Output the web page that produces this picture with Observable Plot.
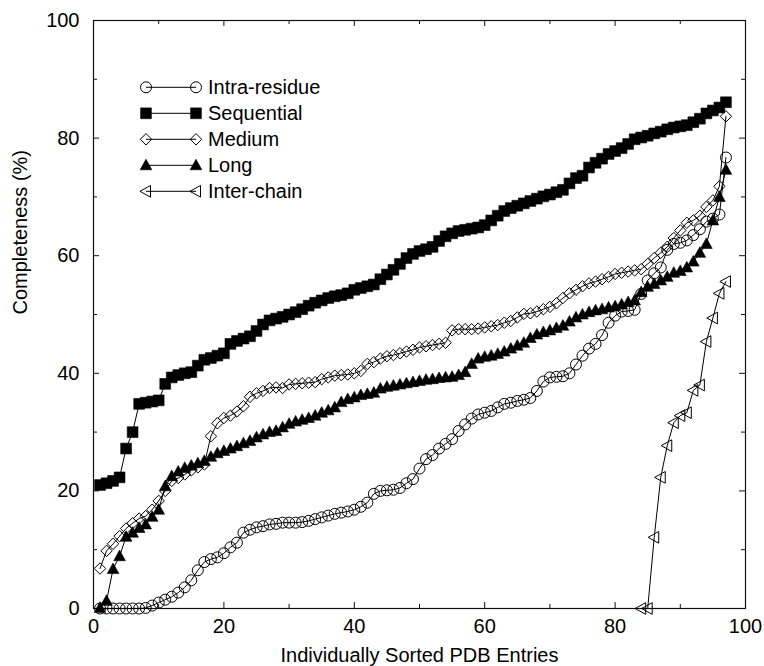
<!DOCTYPE html>
<html><head><meta charset="utf-8">
<script src="https://cdn.jsdelivr.net/npm/d3@7"></script>
<script src="https://cdn.jsdelivr.net/npm/@observablehq/plot@0.6"></script>
<style>
html,body{margin:0;padding:0;background:#fff;}
#chart svg{display:block;}
</style>
</head><body><div id="chart"></div>
<script>
const entries = [1,2,3,4,5,6,7,8,9,10,11,12,13,14,15,16,17,18,19,20,21,22,23,24,25,26,27,28,29,30,31,32,33,34,35,36,37,38,39,40,41,42,43,44,45,46,47,48,49,50,51,52,53,54,55,56,57,58,59,60,61,62,63,64,65,66,67,68,69,70,71,72,73,74,75,76,77,78,79,80,81,82,83,84,85,86,87,88,89,90,91,92,93,94,95,96,97];
const interEntries = [84,85,86,87,88,89,90,91,92,93,94,95,96,97];

const intraResidue = [0,0,0,0,0,0,0,0.1,0.5,1.0,
 1.5,2.0,2.7,3.6,4.8,6.5,7.9,8.4,8.7,9.4,
 10.4,11.2,12.9,13.4,13.8,14.0,14.3,14.4,14.6,14.6,
 14.6,14.7,14.9,15.2,15.5,15.8,16.1,16.3,16.5,16.8,
 17.3,18.0,19.5,20.0,20.1,20.2,20.5,21.3,22.0,23.8,
 25.4,26.1,27.2,28.0,28.8,30.2,31.3,32.3,33.0,33.3,
 33.6,34.2,34.8,35.0,35.3,35.5,35.8,37.0,38.6,39.3,
 39.4,39.5,40.0,41.5,43.0,44.2,45.0,46.5,48.6,49.8,
 50.5,50.6,50.8,53.5,55.8,57.0,58.0,61.0,62.0,62.2,
 62.6,63.5,64.5,65.8,66.3,67.0,76.7];
const sequential = [21.0,21.3,21.7,22.3,27.2,30.0,34.8,35.0,35.2,35.4,
 38.2,39.3,39.7,40.0,40.2,41.3,42.3,42.6,43.0,43.4,
 45.0,45.5,45.9,46.3,47.2,48.3,49.0,49.3,49.6,50.0,
 50.4,50.9,51.5,52.0,52.4,52.8,53.1,53.3,53.6,54.2,
 54.5,54.8,55.1,56.0,56.8,57.6,58.6,59.6,60.3,60.8,
 61.1,61.5,62.5,63.3,63.8,64.2,64.4,64.6,64.8,65.2,
 66.0,66.8,67.6,68.1,68.5,68.9,69.3,69.7,70.1,70.4,
 70.8,71.2,72.3,73.2,73.6,75.0,75.8,76.5,77.3,77.8,
 78.3,79.0,79.8,80.1,80.4,80.8,81.1,81.5,81.8,82.0,
 82.2,82.7,83.3,84.2,84.7,85.2,86.1];
const medium = [6.8,9.8,11.0,12.3,13.6,14.5,15.3,15.7,16.8,18.3,
 20.0,21.7,22.2,22.8,23.5,24.0,24.5,29.3,31.5,32.4,
 32.8,33.5,34.4,36.0,36.6,37.0,37.5,37.6,37.5,38.1,
 38.2,38.3,38.4,38.5,39.0,39.3,39.6,39.7,39.8,40.0,
 40.4,41.6,41.9,42.5,42.9,43.1,43.4,43.7,44.0,44.4,
 44.6,44.8,45.0,45.2,47.3,47.5,47.5,47.5,47.6,47.8,
 48.0,48.2,48.6,48.9,49.5,50.1,50.2,50.5,50.9,51.3,
 51.9,52.8,53.6,54.2,54.8,55.3,55.6,56.0,56.4,56.9,
 57.1,57.3,57.5,57.7,58.6,59.6,60.5,61.5,63.0,64.3,
 65.6,66.0,66.8,68.3,69.4,71.8,83.7];
const long = [0.1,1.3,6.7,8.9,12.2,12.9,13.7,14.3,15.6,16.8,
 20.8,22.5,23.3,23.9,24.3,24.7,25.1,25.8,26.4,26.8,
 27.2,27.6,28.1,28.5,29.1,29.6,30.0,30.2,30.8,31.4,
 31.8,32.1,32.4,32.8,33.3,33.7,34.2,35.1,35.6,35.9,
 36.3,36.5,36.7,37.4,37.7,37.9,38.1,38.3,38.5,38.7,
 38.9,39.0,39.2,39.3,39.4,39.7,40.2,41.6,42.5,42.8,
 43.0,43.3,43.7,44.2,44.7,45.2,46.0,46.6,47.0,47.3,
 47.7,48.1,48.8,49.5,50.0,50.4,50.7,50.9,51.2,51.4,
 51.7,52.1,52.4,53.8,54.7,55.2,55.8,56.4,57.1,57.4,
 58.0,59.0,60.5,62.0,66.0,70.0,74.6];
const interChain = [0,0,12.1,22.3,27.7,31.6,32.8,33.3,37.1,38.0,45.4,49.4,53.6,55.6];

const seriesNames = ["Intra-residue","Sequential","Medium","Long","Inter-chain"];
const xMajorTicks = [0,20,40,60,80,100];
const xMinorTicks = [10,30,50,70,90];
const yMajorTicks = [0,20,40,60,80,100];
const yMinorTicks = [10,30,50,70,90];
const xTitle = "Individually Sorted PDB Entries";
const yTitle = "Completeness (%)";

// symbols
const rad = s => Math.sqrt(s / Math.PI);
const symCircle = {draw(c, s){const r = rad(s); c.moveTo(r, 0); c.arc(0, 0, r, 0, 2*Math.PI);}};
const symSquare = {draw(c, s){const r = rad(s); c.rect(-r, -r, 2*r, 2*r);}};
const symDiamond = {draw(c, s){const r = rad(s)*1.08; c.moveTo(0, -r); c.lineTo(r, 0); c.lineTo(0, r); c.lineTo(-r, 0); c.closePath();}};
const symTriUp = {draw(c, s){const r = rad(s); c.moveTo(0, -1.15*r); c.lineTo(1.1*r, 0.85*r); c.lineTo(-1.1*r, 0.85*r); c.closePath();}};
const symTriLeft = {draw(c, s){const r = rad(s); c.moveTo(-1.15*r, 0); c.lineTo(0.85*r, -1.1*r); c.lineTo(0.85*r, 1.1*r); c.closePath();}};

const seriesList = [
  {name: seriesNames[0], xs: entries, ys: intraResidue, symbol: symCircle, filled: false, r: 5.5},
  {name: seriesNames[1], xs: entries, ys: sequential, symbol: symSquare, filled: true, r: 5.4},
  {name: seriesNames[2], xs: entries, ys: medium, symbol: symDiamond, filled: false, r: 5.3},
  {name: seriesNames[3], xs: entries, ys: long, symbol: symTriUp, filled: true, r: 5.3},
  {name: seriesNames[4], xs: interEntries, ys: interChain, symbol: symTriLeft, filled: false, r: 5.3}
];
seriesList.forEach(s => { s.data = s.xs.map((x, i) => ({x, y: s.ys[i]})); });

const W = 764, H = 666, mL = 93, mR = 19, mT = 20, mB = 58;
const innerW = W - mL - mR, innerH = H - mT - mB;
const majorLen = 6, minorLen = 4;
const ink = "#111";

const marks = [
  Plot.frame({stroke: ink, strokeWidth: 1.2}),
  Plot.tickX(xMajorTicks, {x: d => d, insetTop: innerH - majorLen, stroke: ink}),
  Plot.tickX(xMinorTicks, {x: d => d, insetTop: innerH - minorLen, stroke: ink}),
  Plot.tickX(xMajorTicks, {x: d => d, insetBottom: innerH - majorLen, stroke: ink}),
  Plot.tickX(xMinorTicks, {x: d => d, insetBottom: innerH - minorLen, stroke: ink}),
  Plot.tickY(yMajorTicks, {y: d => d, insetRight: innerW - majorLen, stroke: ink}),
  Plot.tickY(yMinorTicks, {y: d => d, insetRight: innerW - minorLen, stroke: ink}),
  Plot.tickY(yMajorTicks, {y: d => d, insetLeft: innerW - majorLen, stroke: ink}),
  Plot.tickY(yMinorTicks, {y: d => d, insetLeft: innerW - minorLen, stroke: ink}),
  Plot.axisX(xMajorTicks, {anchor: "bottom", tickSize: 0, tickPadding: 10.5, label: null, fill: "black"}),
  Plot.axisY(yMajorTicks, {anchor: "left", tickSize: 0, tickPadding: 14, label: null, fill: "black"}),
  Plot.text([xTitle], {text: d => d, frameAnchor: "bottom", dy: 53.5, lineAnchor: "bottom", fill: "black"}),
  Plot.text([yTitle], {text: d => d, frameAnchor: "left", dx: -67, rotate: -90, lineAnchor: "bottom", fill: "black"})
];
for (const s of seriesList) {
  marks.push(Plot.line(s.data, {x: "x", y: "y", stroke: "black", strokeWidth: 1}));
}
for (const s of seriesList) {
  marks.push(Plot.dot(s.data, {x: "x", y: "y", symbol: s.symbol, r: s.r,
    fill: s.filled ? "black" : "none", stroke: "black", strokeWidth: s.filled ? 0.6 : 1}));
}

const chart = Plot.plot({
  width: W, height: H,
  marginLeft: mL, marginRight: mR, marginTop: mT, marginBottom: mB,
  x: {domain: [0, 100], axis: null},
  y: {domain: [0, 100], axis: null},
  style: {fontFamily: "'Liberation Sans', Arial, Helvetica, sans-serif", fontSize: "20px", background: "white", color: "black", overflow: "visible"},
  marks
});

// legend inside the frame
const svg = d3.select(chart);
const lg = svg.append("g").attr("class", "legend").attr("text-anchor", "start");
seriesList.forEach((s, i) => {
  const yy = 87.3 + 26 * i;
  lg.append("line").attr("x1", 146).attr("x2", 196).attr("y1", yy).attr("y2", yy)
    .attr("stroke", "black").attr("stroke-width", 1);
  [146, 196].forEach(xx => {
    lg.append("path")
      .attr("d", d3.symbol(s.symbol, Math.PI * s.r * s.r)())
      .attr("transform", `translate(${xx},${yy})`)
      .attr("fill", s.filled ? "black" : "none")
      .attr("stroke", "black")
      .attr("stroke-width", s.filled ? 0.6 : 1);
  });
  lg.append("text").attr("x", 208).attr("y", yy + 7).attr("fill", "black")
    .attr("text-anchor", "start").attr("font-size", 20).text(s.name);
});

document.getElementById("chart").appendChild(chart);
</script>
</body></html>
